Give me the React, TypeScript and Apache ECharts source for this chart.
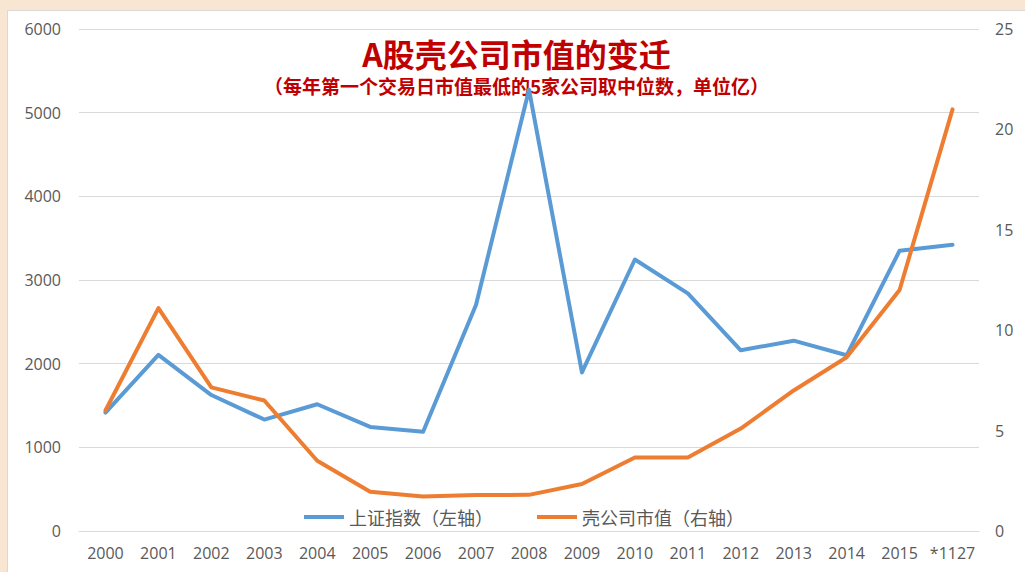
import React, { useEffect, useRef } from "react";
import * as echarts from "echarts";

const categories = ["2000", "2001", "2002", "2003", "2004", "2005", "2006", "2007", "2008", "2009", "2010", "2011", "2012", "2013", "2014", "2015", "*1127"];
const shIndex = [1415, 2105, 1625, 1332, 1515, 1244, 1185, 2705, 5275, 1895, 3245, 2840, 2160, 2275, 2100, 3350, 3420];
const shellValue = [6.0, 11.1, 7.15, 6.5, 3.5, 1.95, 1.72, 1.79, 1.8, 2.34, 3.66, 3.66, 5.1, 7.0, 8.65, 12.0, 21.0];
const leftTicks = { min: 0, max: 6000, interval: 1000 };
const rightTicks = { min: 0, max: 25, interval: 5 };
const seriesNames = ["上证指数（左轴）", "壳公司市值（右轴）"];
const titleText = "A股壳公司市值的变迁";
const subTitleText = "（每年第一个交易日市值最低的5家公司取中位数，单位亿）";

export default function App() {
  const ref = useRef<HTMLDivElement>(null);
  useEffect(() => {
    if (!ref.current) return;
    const chart = echarts.init(ref.current, null, { renderer: "svg" });
    const labelStyle = { color: "#595959", fontSize: 16, fontFamily: "'Open Sans', 'Noto Sans', sans-serif" };
    chart.setOption({
      animation: false,
      backgroundColor: "#ffffff",
      grid: { left: 71, right: 46, top: 18, bottom: 41, containLabel: false },
      graphic: [
        {
          type: "text",
          left: "center",
          top: 26,
          style: { text: titleText, font: "bold 32px 'Noto Sans CJK SC', sans-serif", fill: "#c00000" },
        },
        {
          type: "text",
          left: "center",
          top: 65,
          style: { text: subTitleText, font: "bold 19px 'Noto Sans CJK SC', sans-serif", fill: "#c00000" },
        },
      ],
      legend: {
        left: 291,
        top: 492,
        itemWidth: 40,
        itemHeight: 4,
        itemGap: 44,
        icon: "rect",
        textStyle: { color: "#595959", fontSize: 18, fontFamily: "'Noto Sans CJK SC', sans-serif" },
        data: seriesNames,
      },
      xAxis: {
        type: "category",
        data: categories,
        boundaryGap: true,
        axisLine: { show: true, lineStyle: { color: "#d9d9d9", width: 1 } },
        axisTick: { show: false },
        axisLabel: { ...labelStyle, margin: 14, interval: 0 },
      },
      yAxis: [
        {
          type: "value",
          ...leftTicks,
          axisLine: { show: false },
          axisTick: { show: false },
          axisLabel: { ...labelStyle, margin: 18, formatter: (v: number) => String(v) },
          splitLine: { lineStyle: { color: "#d9d9d9", width: 1 } },
        },
        {
          type: "value",
          ...rightTicks,
          position: "right",
          axisLine: { show: false },
          axisTick: { show: false },
          axisLabel: { ...labelStyle, margin: 16, formatter: (v: number) => String(v) },
          splitLine: { show: false },
        },
      ],
      series: [
        {
          name: seriesNames[0],
          type: "line",
          yAxisIndex: 0,
          data: shIndex,
          symbol: "none",
          lineStyle: { color: "#5b9bd5", width: 4, cap: "round", join: "round" },
          itemStyle: { color: "#5b9bd5" },
        },
        {
          name: seriesNames[1],
          type: "line",
          yAxisIndex: 1,
          data: shellValue,
          symbol: "none",
          lineStyle: { color: "#ed7d31", width: 4, cap: "round", join: "round" },
          itemStyle: { color: "#ed7d31" },
        },
      ],
    });
    return () => chart.dispose();
  }, []);

  return (
    <div style={{ position: "fixed", left: 0, top: 0, width: 1025, height: 572, background: "#f8e6d2" }}>
      <div
        style={{
          position: "absolute",
          left: 7,
          top: 10,
          width: 1018,
          height: 562,
          background: "#ffffff",
          borderLeft: "1px solid #d9d9d9",
          borderTop: "1px solid #d9d9d9",
          boxSizing: "border-box",
        }}
      >
        <div ref={ref} style={{ width: 1017, height: 561 }} />
      </div>
    </div>
  );
}
